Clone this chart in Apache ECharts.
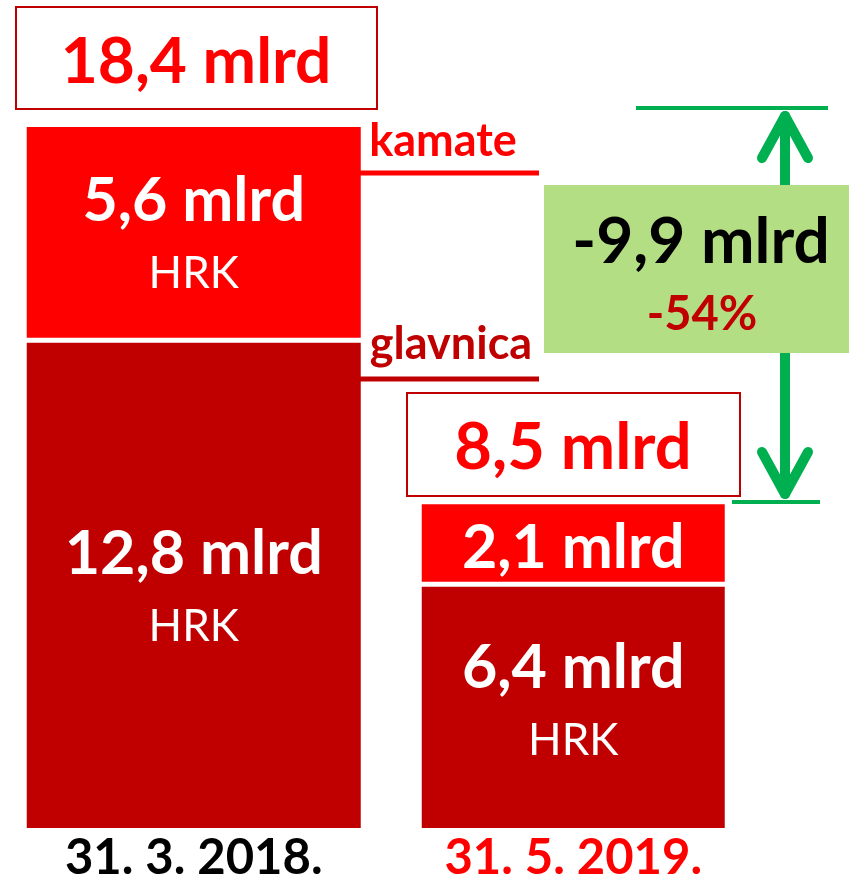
<!DOCTYPE html>
<html>
<head>
<meta charset="utf-8">
<script src="https://cdn.jsdelivr.net/npm/echarts@6/dist/echarts.min.js"></script>
<style>html,body{margin:0;padding:0;background:#fff}#c{width:849px;height:878px}</style>
</head>
<body>
<div id="c"></div>
<script>
// ---- data ----
const categories = ['31. 3. 2018.', '31. 5. 2019.'];
const glavnica = [12.8, 6.4];      // principal (mlrd HRK)
const kamate = [5.6, 2.1];         // interest (mlrd HRK)
const totals = [18.4, 8.5];        // totals (mlrd HRK)
const changeValue = -9.9;          // mlrd
const changePct = -54;             // %
const segmentNames = ['glavnica', 'kamate'];

// ---- styles ----
const barWidths = [334, 303];
const RED = '#FF0000', DARK = '#C00000', GREEN = '#00B050', LIGHTGREEN = '#B3DE84';
const FONT = 'Lato, "Open Sans", sans-serif';
const fmt = v => v.toFixed(1).replace('.', ',') + ' mlrd';

const segData = [];
categories.forEach((c, i) => {
  segData.push([i, 0, glavnica[i], 0]);
  segData.push([i, glavnica[i], glavnica[i] + kamate[i], 1]);
});

function renderItem(params, api) {
  const i = api.value(0), y0 = api.value(1), y1 = api.value(2), seg = api.value(3);
  const p0 = api.coord([i, y0]), p1 = api.coord([i, y1]);
  const w = barWidths[i];
  let top = p1[1], bottom = p0[1];
  if (seg === 0) top += 2.5; else bottom -= 2.5;
  const cx = p0[0];
  const cy = (top + bottom) / 2;
  const val = seg === 0 ? glavnica[i] : kamate[i];
  const children = [{
    type: 'rect',
    shape: { x: cx - w / 2, y: top, width: w, height: bottom - top },
    style: { fill: seg === 0 ? DARK : RED }
  }];
  const twoLine = !(seg === 1 && i === 1);
  if (twoLine) {
    const off = (seg === 0 && i === 1) ? -8 : 0;
    children.push({ type: 'text', style: { text: fmt(val), x: cx, y: cy - 31 + off, fill: '#fff',
      fontSize: 61, fontWeight: 'bold', fontFamily: FONT, align: 'center', verticalAlign: 'middle' } });
    children.push({ type: 'text', style: { text: 'HRK', x: cx, y: cy + 41 + off, fill: '#fff',
      fontSize: 44, fontWeight: 'normal', fontFamily: FONT, align: 'center', verticalAlign: 'middle' } });
  } else {
    children.push({ type: 'text', style: { text: fmt(val), x: cx, y: cy + 5, fill: '#fff',
      fontSize: 61, fontWeight: 'bold', fontFamily: FONT, align: 'center', verticalAlign: 'middle' } });
  }
  return { type: 'group', children };
}

const chart = echarts.init(document.getElementById('c'), null, { renderer: 'canvas' });
const greenLine = (pts, w) => ({ type: 'polyline', shape: { points: pts },
  style: { stroke: GREEN, lineWidth: w, lineCap: 'round', lineJoin: 'round', fill: null }, z: 10 });

chart.setOption({
  animation: false,
  backgroundColor: '#fff',
  grid: { left: 4, right: 86, top: 66, bottom: 50, containLabel: false, outerBoundsMode: 'none' },
  xAxis: {
    type: 'category', data: categories,
    axisLine: { show: false }, axisTick: { show: false }, splitLine: { show: false },
    axisLabel: {
      margin: 7,
      formatter: (v, i) => '{c' + i + '|' + v + '}',
      rich: {
        c0: { color: '#000', fontSize: 49, fontWeight: 'bold', fontFamily: FONT, lineHeight: 46 },
        c1: { color: RED, fontSize: 49, fontWeight: 'bold', fontFamily: FONT, lineHeight: 46 }
      }
    }
  },
  yAxis: { type: 'value', min: 0, max: 20, show: false, splitLine: { show: false } },
  series: [{
    type: 'custom', name: 'dug', renderItem, data: segData,
    encode: { x: 0, y: [1, 2] }, clip: false
  }],
  graphic: [
    // total box 1
    { type: 'rect', shape: { x: 16, y: 7, width: 361, height: 102 },
      style: { fill: '#fff', stroke: DARK, lineWidth: 2 }, z: 10 },
    { type: 'text', style: { text: fmt(totals[0]), x: 196, y: 62, fill: RED, fontSize: 64,
      fontWeight: 'bold', fontFamily: FONT, align: 'center', verticalAlign: 'middle' }, z: 11 },
    // total box 2
    { type: 'rect', shape: { x: 407, y: 393, width: 333, height: 103 },
      style: { fill: '#fff', stroke: DARK, lineWidth: 2 }, z: 10 },
    { type: 'text', style: { text: fmt(totals[1]), x: 573, y: 448, fill: RED, fontSize: 65,
      fontWeight: 'bold', fontFamily: FONT, align: 'center', verticalAlign: 'middle' }, z: 11 },
    // segment labels
    { type: 'text', style: { text: segmentNames[1], x: 443, y: 141, fill: RED, fontSize: 45,
      fontWeight: 'bold', fontFamily: FONT, align: 'center', verticalAlign: 'middle' }, z: 11 },
    { type: 'line', shape: { x1: 360, y1: 173, x2: 539, y2: 173 }, style: { stroke: RED, lineWidth: 5 }, z: 10 },
    { type: 'text', style: { text: segmentNames[0], x: 451, y: 344, fill: DARK, fontSize: 45,
      fontWeight: 'bold', fontFamily: FONT, align: 'center', verticalAlign: 'middle' }, z: 11 },
    { type: 'line', shape: { x1: 360, y1: 379, x2: 539, y2: 379 }, style: { stroke: DARK, lineWidth: 5 }, z: 10 },
    // green arrow
    { type: 'line', shape: { x1: 636, y1: 108, x2: 828, y2: 108 }, style: { stroke: GREEN, lineWidth: 4 }, z: 10 },
    { type: 'line', shape: { x1: 732, y1: 502, x2: 820, y2: 502 }, style: { stroke: GREEN, lineWidth: 4 }, z: 10 },
    greenLine([[785, 116], [785, 494]], 10),
    greenLine([[762, 158], [785, 116], [808, 158]], 10),
    greenLine([[762, 452], [785, 494], [808, 452]], 10),
    // change box
    { type: 'rect', shape: { x: 544, y: 185, width: 305, height: 168 }, style: { fill: LIGHTGREEN }, z: 12 },
    { type: 'text', style: { text: fmt(changeValue), x: 701, y: 242, fill: '#000', fontSize: 64,
      fontWeight: 'bold', fontFamily: FONT, align: 'center', verticalAlign: 'middle' }, z: 13 },
    { type: 'text', style: { text: changePct + '%', x: 702, y: 315, fill: DARK, fontSize: 47,
      fontWeight: 'bold', fontFamily: FONT, align: 'center', verticalAlign: 'middle' }, z: 13 }
  ]
});
</script>
</body>
</html>
